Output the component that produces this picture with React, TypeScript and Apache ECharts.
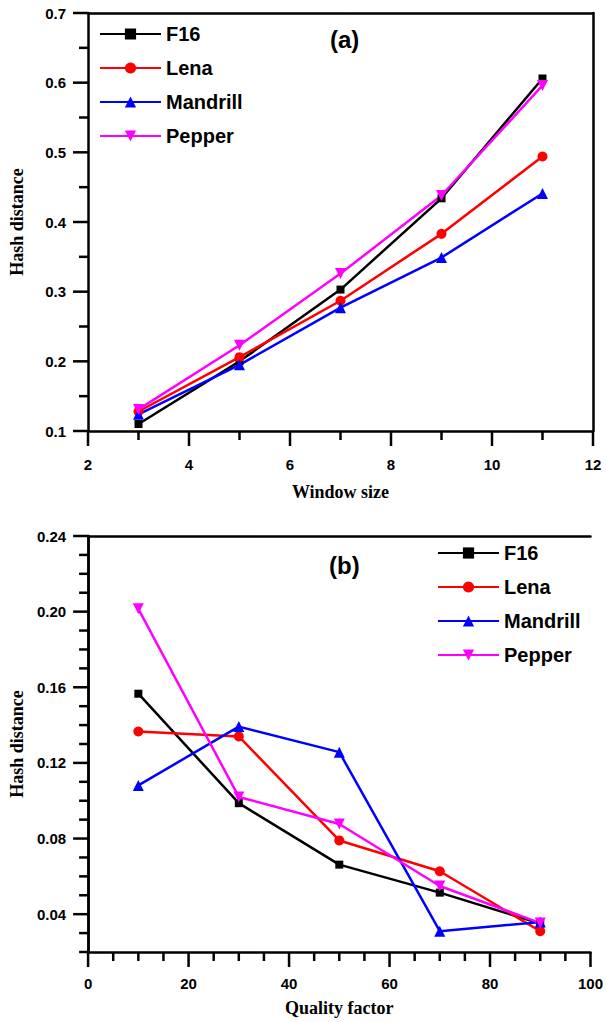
import React, { useEffect, useRef } from "react";
import * as echarts from "echarts";

const seriesNames = ["F16", "Lena", "Mandrill", "Pepper"];
const windowSizes = [3, 5, 7, 9, 11];
const qualityFactors = [10, 30, 50, 70, 90];

const f16A = [0.11, 0.2, 0.303, 0.434, 0.606];
const lenaA = [0.128, 0.206, 0.287, 0.383, 0.494];
const mandrillA = [0.124, 0.195, 0.277, 0.349, 0.441];
const pepperA = [0.131, 0.223, 0.326, 0.438, 0.596];

const f16B = [0.1566, 0.0987, 0.0662, 0.0514, 0.035];
const lenaB = [0.1366, 0.134, 0.079, 0.0627, 0.031];
const mandrillB = [0.1081, 0.1392, 0.1257, 0.031, 0.0358];
const pepperB = [0.2015, 0.102, 0.0877, 0.0549, 0.0353];

// tick positions
const topXMajor = [2, 4, 6, 8, 10, 12];
const topXMinor = [3, 5, 7, 9, 11];
const topYMajor = [0.1, 0.2, 0.3, 0.4, 0.5, 0.6, 0.7];
const topYMinor = [0.15, 0.25, 0.35, 0.45, 0.55, 0.65];
const botXMajor = [0, 20, 40, 60, 80, 100];
const botXMinor = [5, 10, 15, 25, 30, 35, 45, 50, 55, 65, 70, 75, 85, 90, 95];
const botYMajor = [0.04, 0.08, 0.12, 0.16, 0.2, 0.24];
const botYMinor = [0.02, 0.03, 0.05, 0.06, 0.07, 0.09, 0.1, 0.11, 0.13, 0.14, 0.15, 0.17, 0.18, 0.19, 0.21, 0.22, 0.23];

const colors = ["#000000", "#ff0000", "#0000ff", "#ff00ff"];
const symbols = ["rect", "circle", "triangle", "triangle"];
const rotations = [0, 0, 0, 180];
const sizes = [8, 10, 11, 11];

const SANS = "Arial";
const SERIF = "Times New Roman";
const AXW = 2.5;

const line = () => ({ show: true, lineStyle: { color: "#000", width: AXW } });
const label = (margin: number, extra: any = {}) => ({
  color: "#000", fontFamily: SANS, fontWeight: "bold", fontSize: 15, margin, ...extra,
});
const nameStyle = () => ({ color: "#000", fontFamily: SERIF, fontWeight: "bold", fontSize: 18 });
const frame = (position: string, min: number, max: number) => ({
  type: "value", position, min, max,
  axisLine: line(), axisTick: { show: false }, axisLabel: { show: false }, splitLine: { show: false },
});

const mk = (data: number[], xs: number[], i: number) => ({
  type: "line",
  name: seriesNames[i],
  data: xs.map((x, k) => [x, data[k]]),
  symbol: symbols[i],
  symbolSize: sizes[i],
  symbolRotate: rotations[i],
  itemStyle: { color: colors[i] },
  lineStyle: { color: colors[i], width: 2.5 },
});

const legend = (left: number, top: number) => ({
  orient: "vertical",
  left, top,
  itemWidth: 61,
  itemHeight: 14,
  itemGap: 14,
  data: seriesNames,
  textStyle: { color: "#000", fontFamily: SANS, fontWeight: "bold", fontSize: 20 },
});

const title = (text: string, left: number, top: number) => ({
  text, left, top,
  textStyle: { color: "#000", fontFamily: SANS, fontWeight: "bold", fontSize: 24 },
});

type Spec = {
  option: any;
  xMajor: number[]; xMinor: number[]; yMajor: number[]; yMinor: number[];
  xMin: number; yMin: number;
};

function buildTop(): Spec {
  return {
    xMajor: topXMajor, xMinor: topXMinor, yMajor: topYMajor, yMinor: topYMinor, xMin: 2, yMin: 0.1,
    option: {
      animation: false,
      title: title("(a)", 325, 22),
      grid: { left: 88, top: 13, width: 505, height: 418 },
      legend: legend(94, 19),
      xAxis: [
        {
          type: "value", min: 2, max: 12, interval: 2,
          axisLine: line(), axisTick: { show: false }, splitLine: { show: false },
          axisLabel: label(26),
          name: "Window size", nameLocation: "middle", nameGap: 52, nameTextStyle: nameStyle(),
        },
        frame("top", 2, 12),
      ],
      yAxis: [
        {
          type: "value", min: 0.1, max: 0.7, interval: 0.1,
          axisLine: line(), axisTick: { show: false }, splitLine: { show: false },
          axisLabel: label(22, { formatter: (v: number) => v.toFixed(1) }),
          name: "Hash distance", nameLocation: "middle", nameGap: 62, nameTextStyle: nameStyle(),
        },
        frame("right", 0.1, 0.7),
      ],
      series: [
        mk(f16A, windowSizes, 0),
        mk(lenaA, windowSizes, 1),
        mk(mandrillA, windowSizes, 2),
        mk(pepperA, windowSizes, 3),
      ],
    },
  };
}

function buildBottom(): Spec {
  return {
    xMajor: botXMajor, xMinor: botXMinor, yMajor: botYMajor, yMinor: botYMinor, xMin: 0, yMin: 0.02,
    option: {
      animation: false,
      title: title("(b)", 324, 37),
      grid: { left: 88, top: 25, width: 505, height: 420 },
      legend: legend(432, 27),
      xAxis: [
        {
          type: "value", min: 0, max: 100, interval: 20,
          axisLine: line(), axisTick: { show: false }, splitLine: { show: false },
          axisLabel: label(24),
          name: "Quality factor", nameLocation: "middle", nameGap: 47, nameTextStyle: nameStyle(),
        },
        frame("top", 0, 100),
      ],
      yAxis: [
        {
          type: "value", min: 0.02, max: 0.24, interval: 0.01,
          axisLine: line(), axisTick: { show: false }, splitLine: { show: false },
          axisLabel: label(22, { customValues: botYMajor, formatter: (v: number) => v.toFixed(2) }),
          name: "Hash distance", nameLocation: "middle", nameGap: 62, nameTextStyle: nameStyle(),
        },
        frame("right", 0.02, 0.24),
      ],
      series: [
        mk(f16B, qualityFactors, 0),
        mk(lenaB, qualityFactors, 1),
        mk(mandrillB, qualityFactors, 2),
        mk(pepperB, qualityFactors, 3),
      ],
    },
  };
}

function tickGraphics(chart: any, s: Spec) {
  const finder = { xAxisIndex: 0, yAxisIndex: 0 };
  const els: any[] = [];
  const add = (x1: number, y1: number, x2: number, y2: number) =>
    els.push({ type: "line", z: 100, silent: true, shape: { x1, y1, x2, y2 }, style: { stroke: "#000", lineWidth: AXW } });
  const xt = (vals: number[], len: number) => vals.forEach((v) => {
    const p = chart.convertToPixel(finder, [v, s.yMin]);
    if (p) add(p[0], p[1], p[0], p[1] + len);
  });
  const yt = (vals: number[], len: number) => vals.forEach((v) => {
    const p = chart.convertToPixel(finder, [s.xMin, v]);
    if (p) add(p[0], p[1], p[0] - len, p[1]);
  });
  xt(s.xMajor, 15); xt(s.xMinor, 9); yt(s.yMajor, 15); yt(s.yMinor, 9);
  return els;
}

function Chart({ build }: { build: () => Spec }) {
  const ref = useRef<HTMLDivElement>(null);
  useEffect(() => {
    if (!ref.current) return;
    const chart = echarts.init(ref.current, undefined, { renderer: "svg" });
    const spec = build();
    chart.setOption(spec.option);
    chart.setOption({ graphic: { elements: tickGraphics(chart, spec) } });
    return () => chart.dispose();
  }, []);
  return <div ref={ref} style={{ width: 606, height: 511 }} />;
}

export default function App() {
  useEffect(() => {
    document.body.style.margin = "0";
  }, []);
  return (
    <div style={{ width: 606, height: 1022 }}>
      <Chart build={buildTop} />
      <Chart build={buildBottom} />
    </div>
  );
}
